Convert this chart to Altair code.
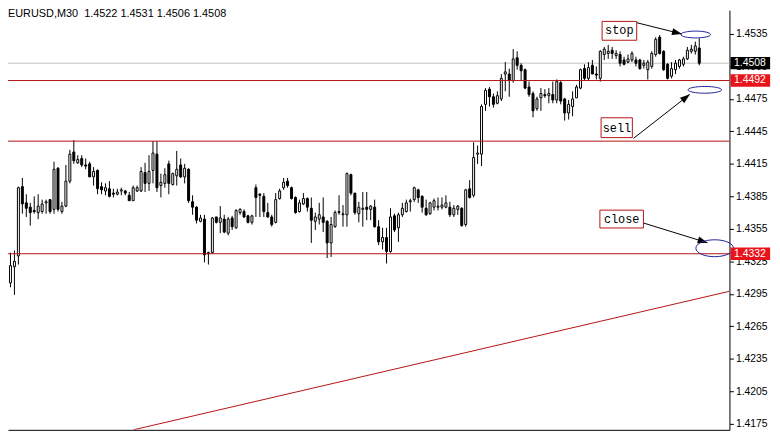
import altair as alt
import pandas as pd

# ---- candle data: values are pips above 1.4000 (price = 1.4 + p / 10000) ----
opens = [197,260,305,320,330,394,379,375,372,370, 371,379,382,373,411,371,376,399,426,416,
         420,414,415,403,409,394,390,392,388,387, 390,390,386,381,390,390,407,397,409,424,
         395,397,415,396,404,414,403,410,380,375, 362,364,333,333,366,361,364,351,365,356,
         370,371,367,361,393,387,385,370,366,361, 383,393,399,393,384,371,378,383,374,362,
         364,366,362,342,357,370,368,368,405,388, 369,373,375,373,375,357,343,347,334,367,
         356,368,371,380,382,391,385,374,369,375, 375,375,375,375,368,373,374,359,392,386,
         424,424,470,484,477,471,475,498,498,492, 513,506,502,486,480,466,476,479,478,479,
         474,490,475,462,468,476,485,503,494,506, 498,494,516,517,520,515,516,511,509,511,
         511,511,506,502,505,516,532,519,507,496, 502,505,507,512,519,519,522]
highs = [269,322,333,335,394,402,387,379,385,387, 382,382,382,417,412,380,414,428,437,423,
         423,420,417,412,410,398,397,399,392,392, 393,391,389,395,395,412,416,423,436,436,
         406,411,418,407,427,420,415,411,386,376, 368,368,334,366,366,376,368,366,367,373,
         374,373,368,368,396,388,388,379,368,388, 392,402,402,394,385,382,388,384,384,370,
         379,384,363,366,372,386,377,407,406,388, 380,389,389,377,382,363,356,356,374,369,
         370,379,382,383,394,392,386,382,380,383, 384,384,386,380,377,377,375,392,400,435,
         432,470,485,486,480,482,498,509,503,521, 519,508,503,491,482,477,485,484,485,491,
         493,492,476,474,482,488,503,507,509,511, 505,520,523,525,523,520,519,514,516,519,
         514,512,511,511,519,532,534,520,508,509, 511,512,514,523,525,528,531]
lows = [185,256,301,294,322,369,366,358,369,364, 369,369,369,369,371,369,375,397,415,415,
        412,410,403,395,387,387,386,384,384,386, 386,386,381,381,389,389,389,390,397,389,
        384,393,387,395,395,402,397,379,368,360, 361,324,322,332,360,351,351,349,354,355,
        368,365,360,359,366,366,366,365,357,360, 382,391,393,382,369,370,377,371,342,354,
        359,352,328,329,356,368,357,357,386,368, 361,357,363,363,356,340,336,323,333,352,
        343,366,370,371,380,379,370,367,368,372, 372,373,374,366,366,368,357,357,383,384,
        415,413,464,468,467,470,473,482,477,490, 502,492,484,477,458,464,464,476,471,471,
        471,470,455,456,459,476,484,492,492,498, 493,491,511,512,512,512,505,506,508,509,
        505,502,503,493,503,514,516,501,493,494, 498,503,505,511,517,516,506]
closes = [260,309,321,325,393,378,374,370,371,376, 378,380,371,410,373,376,399,424,418,419,
          414,413,403,408,392,391,393,385,387,389, 391,388,381,393,393,408,397,408,425,393,
          398,405,397,406,410,403,411,381,375,363, 365,331,332,365,361,365,352,364,357,372,
          373,366,361,367,384,386,371,366,359,382, 390,398,395,383,370,379,383,375,363,366,
          368,361,342,359,370,371,369,406,388,370, 375,374,373,376,357,343,347,334,366,354,
          368,374,379,381,393,384,375,368,379,381, 376,377,379,368,374,376,358,391,384,421,
          425,468,483,477,470,478,494,500,492,512, 506,501,485,479,464,475,480,478,480,474,
          491,473,462,470,475,486,502,494,504,498, 497,519,521,519,517,517,508,507,512,517,
          508,503,508,509,517,530,517,502,494,503, 508,511,512,520,521,524,508]

title_text = "EURUSD,M30\u00a0\u00a01.4522 1.4531 1.4506 1.4508"
y_ticks = [1.4175, 1.4205, 1.4235, 1.4265, 1.4295, 1.4325, 1.4355,
           1.4385, 1.4415, 1.4445, 1.4475, 1.4505, 1.4535]
level_prices = [1.4492, 1.4436, 1.4332]
bid_price = 1.4508
trend_i = [34.1, 184.6]
trend_p = [1.41694, 1.42973]

tag_text = ["1.4508", "1.4492", "1.4332"]
tag_price = [1.4508, 1.4492, 1.4332]
tag_color = ["#000000", "#e8141c", "#e8141c"]

note_text = ["stop", "sell", "close"]
note_i1 = [152.45, 152.2, 151.9]
note_i2 = [161.2, 160.1, 162.9]
note_p1 = [1.45466, 1.44576, 1.43723]
note_p2 = [1.45292, 1.44393, 1.43558]
note_ti = [156.8, 156.2, 157.4]
note_tp = [1.45385, 1.44485, 1.43641]

arrow_i1 = [161.1, 160.4, 162.9]
arrow_p1 = [1.45455, 1.44386, 1.43604]
arrow_i2 = [172.6, 174.6, 179.1]
arrow_p2 = [1.45350, 1.44792, 1.43421]
head_i = [171.4, 173.65, 177.9]
head_p = [1.45361, 1.44764, 1.43435]
head_angle = [104, 52, 107]

ell_i = [176.1, 178.4, 180.9]
ell_p = [1.45345, 1.44834, 1.43371]
ell_w = [30, 34, 38]
ell_ratio = [0.23, 0.2, 0.45]

RED = "#b41414"
NAVY = "#22229a"

df = pd.DataFrame({
    "i": list(range(1, len(opens) + 1)),
    "o": [1.4 + v / 10000 for v in opens],
    "h": [1.4 + v / 10000 for v in highs],
    "l": [1.4 + v / 10000 for v in lows],
    "c": [1.4 + v / 10000 for v in closes],
})

xscale = alt.Scale(domain=[2.375, 184.625], nice=False, zero=False)
yscale = alt.Scale(domain=[1.416937, 1.455694], nice=False, zero=False)
xaxis = alt.Axis(labels=False, ticks=False, domain=True, domainColor="black",
                 domainWidth=1, grid=False, title=None)
yaxis = alt.Axis(orient="right", values=y_ticks, format=".4f", grid=False, title=None,
                 domain=True, domainColor="black", domainWidth=1, tickSize=4,
                 tickColor="black", labelPadding=2, labelColor="black",
                 labelFont="Liberation Sans", labelFontSize=10.5, labelOverlap=False)


def X(f):
    return alt.X(f, type="quantitative", scale=xscale, axis=xaxis)


def Y(f):
    return alt.Y(f, type="quantitative", scale=yscale, axis=yaxis)


base = alt.Chart(df)

bid = alt.Chart(pd.DataFrame({"y": [bid_price]})).mark_rule(
    color="#c0c0c0", strokeWidth=1).encode(y=Y("y"))

wicks = base.mark_rule(color="black", strokeWidth=1, clip=True).encode(
    x=X("i"), y=Y("l"), y2=alt.Y2("h"))

bodies = base.transform_calculate(
    x1="datum.i - 0.25", x2="datum.i + 0.25"
).mark_rect(stroke="black", strokeWidth=1, clip=True).encode(
    x=X("x1"), x2=alt.X2("x2"), y=Y("o"), y2=alt.Y2("c"),
    fill=alt.condition("datum.c > datum.o", alt.value("white"), alt.value("black")),
)

levels = alt.Chart(pd.DataFrame({"y": level_prices})).mark_rule(
    color=RED, strokeWidth=1).encode(y=Y("y"))

trend = alt.Chart(pd.DataFrame({"i": trend_i, "p": trend_p})).mark_line(
    color=RED, strokeWidth=1, clip=True).encode(x=X("i"), y=Y("p"))

arrows = alt.Chart(pd.DataFrame({"i1": arrow_i1, "p1": arrow_p1, "i2": arrow_i2, "p2": arrow_p2})
                   ).mark_rule(color="black", strokeWidth=1).encode(
    x=X("i1"), y=Y("p1"), x2=alt.X2("i2"), y2=alt.Y2("p2"))

heads = []
for hi, hp, ha in zip(head_i, head_p, head_angle):
    heads.append(alt.Chart(pd.DataFrame({"i": [hi], "p": [hp]})).mark_point(
        shape="M0,-1L0.7,1L-0.7,1Z", size=100, filled=True, color="black",
        opacity=1, angle=ha).encode(x=X("i"), y=Y("p")))

ellipses = []
for ei, ep, ew, er in zip(ell_i, ell_p, ell_w, ell_ratio):
    path = f"M-1,0A1,{er},0,1,0,1,0A1,{er},0,1,0,-1,0Z"
    ellipses.append(alt.Chart(pd.DataFrame({"i": [ei], "p": [ep]})).mark_point(
        shape=path, size=ew * ew, filled=False, stroke=NAVY, strokeWidth=1,
        opacity=1, clip=False).encode(x=X("i"), y=Y("p")))

notes_df = pd.DataFrame({"t": note_text, "i1": note_i1, "i2": note_i2, "p1": note_p1,
                         "p2": note_p2, "ti": note_ti, "tp": note_tp})
note_boxes = alt.Chart(notes_df).mark_rect(fill="white", stroke=RED, strokeWidth=1).encode(
    x=X("i1"), x2=alt.X2("i2"), y=Y("p1"), y2=alt.Y2("p2"))
note_texts = alt.Chart(notes_df).mark_text(
    font="Liberation Mono", fontSize=12, color="black", align="center",
    baseline="middle").encode(x=X("ti"), y=Y("tp"), text="t:N")

tags_df = pd.DataFrame({"t": tag_text, "p": tag_price, "col": tag_color})
tags_df["p1"] = tags_df["p"] - 0.00057
tags_df["p2"] = tags_df["p"] + 0.00057
tag_boxes = alt.Chart(tags_df).mark_rect(clip=False).encode(
    x=alt.datum(184.9, type="quantitative", scale=xscale, axis=xaxis),
    x2=alt.datum(194.9), y=Y("p1"), y2=alt.Y2("p2"),
    fill=alt.Fill("col:N", scale=None))
tag_texts = alt.Chart(tags_df).mark_text(
    font="Liberation Sans", fontSize=10.5, color="white", align="center",
    baseline="middle", clip=False).encode(
    x=alt.datum(189.8, type="quantitative", scale=xscale, axis=xaxis),
    y=Y("p"), text="t:N")

title = alt.Chart(pd.DataFrame({"t": [title_text]})).mark_text(
    font="Liberation Sans", fontSize=11, color="black", align="left",
    baseline="middle").encode(x=alt.value(0), y=alt.value(4), text="t:N")

chart = alt.layer(
    bid, wicks, bodies, levels, trend, arrows, *heads, *ellipses,
    note_boxes, note_texts, tag_boxes, tag_texts, title
).properties(
    width=729, height=424,
    padding={"left": 0, "top": 0, "right": 43, "bottom": 4},
    autosize=alt.AutoSizeParams(type="none"),
    background="white",
).configure_view(stroke=None)

chart.save("out.html", embed_options={"renderer": "svg", "actions": False})
